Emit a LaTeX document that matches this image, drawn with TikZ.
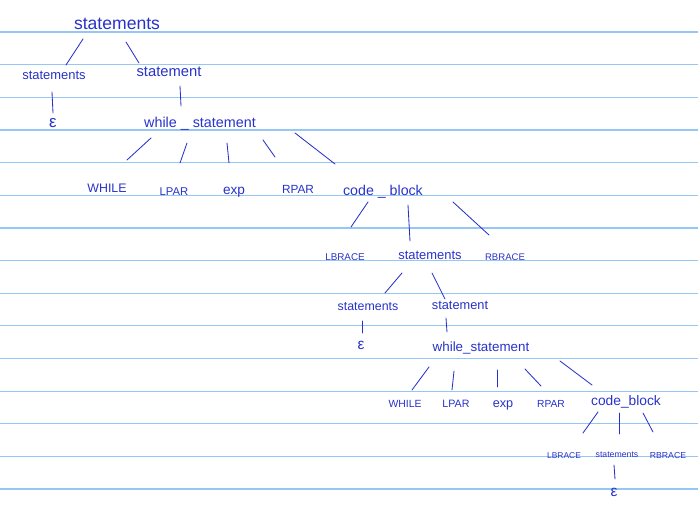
\documentclass[tikz,border=0pt]{standalone}
\usepackage{fontspec}
\setmainfont{Liberation Sans}
\usepackage{xcolor}
\usetikzlibrary{calc}

\definecolor{ink}{RGB}{40,50,200}
\definecolor{paperline}{RGB}{150,198,245}

\begin{document}
\begin{tikzpicture}[
    x=0.025cm, y=-0.025cm,
    word/.style={
        font=\fontsize{#1}{#1}\selectfont,
        text=ink,
        anchor=base,
        inner sep=0pt
    },
    edge/.style={draw=ink, line width=0.6pt, line cap=round},
    rule/.style={draw=paperline, line width=0.9pt}
]
    \useasboundingbox (0,0) rectangle (698,511);

    % Ruled paper
    \foreach \k in {0,...,14}
        \draw[rule] (0,{32+32.65*\k}) -- (698,{32+32.65*\k});

    % Level 0-2
    \node[word=12.5] (root) at (117,30) {statements};
    \node[word=9.2] (stL) at (54,80) {statements};
    \node[word=10.5] (st) at (169,77) {statement};
    \node[word=12] (epsA) at (53,128) {ε};
    \node[word=10.2] (wsA) at (200,128) {while \_ statement};

    % First while statement
    \node[word=8.8] (whileA) at (107,193) {WHILE};
    \node[word=8] (lparA) at (174,196) {LPAR};
    \node[word=9.7] (expA) at (234,195) {exp};
    \node[word=8.4] (rparA) at (298,194) {RPAR};
    \node[word=10.1] (cbA) at (383,196) {code \_ block};

    % First code block
    \node[word=7] (lbA) at (345,261) {LBRACE};
    \node[word=9.2] (stsB) at (430,260) {statements};
    \node[word=6.8] (rbA) at (505,261) {RBRACE};

    \node[word=8.8] (stsC) at (368,311) {statements};
    \node[word=9.1] (stB) at (460,310) {statement};
    \node[word=11] (epsB) at (361,350) {ε};
    \node[word=9.5] (wsB) at (481,352) {while\_statement};

    % Second while statement
    \node[word=7.4] (whileB) at (405,408) {WHILE};
    \node[word=7.6] (lparB) at (456,408) {LPAR};
    \node[word=9] (expB) at (503,408) {exp};
    \node[word=7.3] (rparB) at (551,408) {RPAR};
    \node[word=9.8] (cbB) at (626,405) {code\_block};

    % Second code block
    \node[word=6] (lbB) at (564,458) {LBRACE};
    \node[word=6.2] (stsD) at (617,457) {statements};
    \node[word=6.2] (rbB) at (668,458) {RBRACE};
    \node[word=11] (epsC) at (614,496) {ε};

    % Edges
    \draw[edge] ($(root.base)+(-34,9)$) -- ($(stL.base)+(12,-15)$);
    \draw[edge] ($(root.base)+(9,12)$) -- ($(st.base)+(-30,-14)$);
    \draw[edge] ($(stL.base)+(-2,12)$) -- ($(epsA.base)+(0,-15)$);
    \draw[edge] ($(st.base)+(11,9)$) -- ($(wsA.base)+(-19,-22)$);

    \draw[edge] ($(wsA.base)+(-49,10)$) -- ($(whileA.base)+(20,-33)$);
    \draw[edge] ($(wsA.base)+(-13,15)$) -- ($(lparA.base)+(6,-33)$);
    \draw[edge] ($(wsA.base)+(27,15)$) -- ($(expA.base)+(-5,-32)$);
    \draw[edge] ($(wsA.base)+(63,12)$) -- ($(rparA.base)+(-23,-37)$);
    \draw[edge] ($(wsA.base)+(95,5)$) -- ($(cbA.base)+(-48,-32)$);

    \draw[edge] ($(cbA.base)+(-15,6)$) -- ($(lbA.base)+(6,-34)$);
    \draw[edge] ($(cbA.base)+(25,9)$) -- ($(stsB.base)+(-20,-19)$);
    \draw[edge] ($(cbA.base)+(70,6)$) -- ($(rbA.base)+(-16,-26)$);

    \draw[edge] ($(stsB.base)+(-28,13)$) -- ($(stsC.base)+(17,-18)$);
    \draw[edge] ($(stsB.base)+(2,13)$) -- ($(stB.base)+(-15,-11)$);
    \draw[edge] ($(stsC.base)+(-6,10)$) -- ($(epsB.base)+(1,-17)$);
    \draw[edge] ($(stB.base)+(-14,8)$) -- ($(wsB.base)+(-34,-20)$);

    \draw[edge] ($(wsB.base)+(-52,15)$) -- ($(whileB.base)+(7,-18)$);
    \draw[edge] ($(wsB.base)+(-27,19)$) -- ($(lparB.base)+(-4,-18)$);
    \draw[edge] ($(wsB.base)+(16,18)$) -- ($(expB.base)+(-6,-21)$);
    \draw[edge] ($(wsB.base)+(44,17)$) -- ($(rparB.base)+(-10,-22)$);
    \draw[edge] ($(wsB.base)+(79,9)$) -- ($(cbB.base)+(-34,-20)$);

    \draw[edge] ($(cbB.base)+(-28,7)$) -- ($(lbB.base)+(19,-25)$);
    \draw[edge] ($(cbB.base)+(-7,8)$) -- ($(stsD.base)+(2,-23)$);
    \draw[edge] ($(cbB.base)+(17,8)$) -- ($(rbB.base)+(-15,-26)$);
    \draw[edge] ($(stsD.base)+(-3,8)$) -- ($(epsC.base)+(1,-17)$);
\end{tikzpicture}
\end{document}
